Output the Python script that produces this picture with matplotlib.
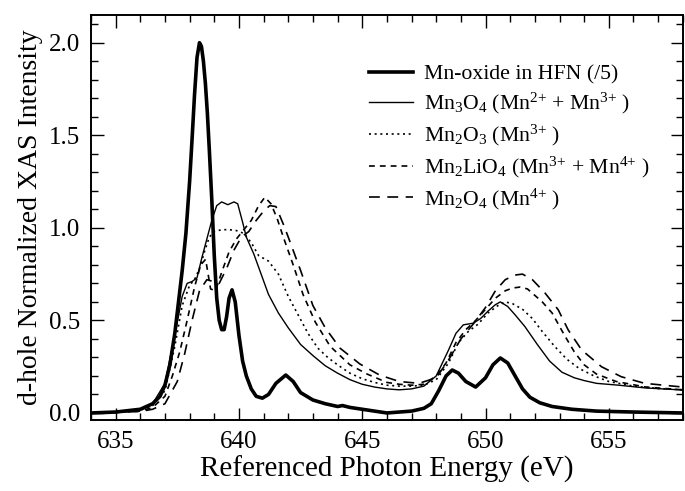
import matplotlib
matplotlib.use('Agg')
import matplotlib.pyplot as plt
from matplotlib.ticker import MultipleLocator, FormatStrFormatter

plt.rcParams['font.family'] = ['Liberation Serif', 'DejaVu Serif']
plt.rcParams['mathtext.fontset'] = 'custom'
plt.rcParams['mathtext.rm'] = 'Liberation Serif'
plt.rcParams['mathtext.it'] = 'Liberation Serif:italic'

# Mn-oxide in HFN, divided by 5
hfn_e = [634, 635, 636, 636.5, 636.8, 637.0, 637.2, 637.4, 637.55, 637.7, 637.85, 638.0,
         638.1, 638.2, 638.3, 638.4, 638.48, 638.56, 638.64, 638.72, 638.8, 638.9, 639.0,
         639.1, 639.2, 639.3, 639.4, 639.5, 639.6, 639.72, 639.85, 640.0, 640.15,
         640.3, 640.5, 640.7, 640.95, 641.2, 641.5, 641.9, 642.2, 642.5, 643.0, 643.5, 644.0,
         644.2, 644.5, 645.0, 645.5, 646.0, 646.5, 647.0, 647.5, 647.8, 648.1, 648.4, 648.65,
         648.9, 649.2, 649.6, 650.0, 650.3, 650.6, 650.9, 651.2, 651.5, 651.8, 652.2, 652.7,
         653.5, 654.5, 656, 658]
hfn_i = [0.0, 0.005, 0.02, 0.05, 0.09, 0.15, 0.26, 0.43, 0.6, 0.77, 0.97, 1.25,
         1.48, 1.72, 1.92, 2.0, 1.98, 1.9, 1.78, 1.62, 1.42, 1.15, 0.85,
         0.62, 0.5, 0.45, 0.45, 0.52, 0.62, 0.665, 0.6, 0.42, 0.28,
         0.2, 0.13, 0.09, 0.08, 0.1, 0.16, 0.205, 0.17, 0.11, 0.07, 0.05, 0.035,
         0.04, 0.03, 0.02, 0.01, 0.0, 0.005, 0.01, 0.025, 0.05, 0.12, 0.2, 0.232,
         0.215, 0.17, 0.14, 0.19, 0.26, 0.297, 0.27, 0.2, 0.13, 0.085, 0.055, 0.035,
         0.02, 0.01, 0.005, 0.0]

# Mn3O4
mn3o4_e = [634, 635, 636, 636.5, 637.0, 637.4, 637.7, 637.9, 638.1, 638.3, 638.5, 638.7,
           638.9, 639.1, 639.3, 639.55, 639.8, 639.95, 640.15, 640.3, 640.6, 640.9, 641.2,
           641.6, 642.0, 642.5, 643.0, 643.5, 644.0, 644.5, 645.0, 645.5, 646.0, 646.5,
           647.0, 647.5, 648.0, 648.5, 648.8, 649.1, 649.5, 649.8, 650.1, 650.4, 650.6,
           650.9, 651.2, 651.6, 652.1, 652.6, 653.1, 653.6, 654.0, 654.5, 655.4, 656.5, 658]
mn3o4_i = [0.0, 0.005, 0.02, 0.05, 0.16, 0.42, 0.63, 0.70, 0.71, 0.73, 0.84, 0.94,
           1.04, 1.12, 1.14, 1.125, 1.14, 1.13, 1.03, 0.95, 0.86, 0.75, 0.64,
           0.54, 0.46, 0.37, 0.31, 0.255, 0.215, 0.18, 0.155, 0.14, 0.13, 0.125,
           0.13, 0.145, 0.2, 0.34, 0.43, 0.476, 0.485, 0.51, 0.55, 0.585, 0.60,
           0.575, 0.53, 0.466, 0.37, 0.28, 0.22, 0.19, 0.175, 0.16, 0.15, 0.135, 0.124]

# Mn2O3
mn2o3_e = [634, 635, 636, 636.5, 637.0, 637.4, 637.7, 638.0, 638.2, 638.4, 638.6, 638.8,
           639.0, 639.3, 639.6, 639.9, 640.2, 640.5, 640.8, 641.2, 641.6, 642.0, 642.4,
           642.8, 643.2, 643.6, 644.0, 644.5, 645.0, 645.5, 646.0, 646.5, 647.0, 647.5,
           648.0, 648.5, 648.9, 649.3, 649.7, 650.1, 650.5, 650.8, 651.1, 651.5, 651.9,
           652.3, 652.8, 653.3, 653.8, 654.4, 655.0, 656.0, 657.0, 658]
mn2o3_i = [0.0, 0.005, 0.015, 0.04, 0.12, 0.36, 0.58, 0.69, 0.72, 0.78, 0.87, 0.95,
           0.98, 0.99, 0.99, 0.985, 0.97, 0.92, 0.85, 0.82, 0.75, 0.63, 0.53,
           0.43, 0.35, 0.30, 0.26, 0.215, 0.185, 0.165, 0.15, 0.145, 0.145, 0.15,
           0.18, 0.27, 0.38, 0.44, 0.48, 0.54, 0.58, 0.60, 0.59, 0.56, 0.51,
           0.44, 0.36, 0.29, 0.24, 0.2, 0.17, 0.145, 0.132, 0.125]

# Mn2LiO4
mn2lio4_e = [634, 635, 636, 636.5, 637.0, 637.3, 637.6, 637.9, 638.2, 638.45, 638.65, 638.85,
             639.05, 639.3, 639.6, 639.9, 640.2, 640.5, 640.8, 641.05, 641.3, 641.55, 641.8,
             642.2, 642.6, 643.1, 643.7, 644.5, 645.2, 646.0, 646.5, 647.0, 647.5, 648.0,
             648.4, 648.8, 649.2, 649.6, 650.0, 650.4, 650.8, 651.1, 651.4, 651.7, 652.0,
             652.3, 652.7, 653.2, 653.6, 654.0, 654.5, 655.3, 656.5, 658]
mn2lio4_i = [0.0, 0.005, 0.01, 0.03, 0.09, 0.2, 0.33, 0.5, 0.68, 0.8, 0.83, 0.67,
             0.66, 0.76, 0.87, 0.94, 0.99, 1.04, 1.12, 1.165, 1.13, 1.05, 0.95,
             0.8, 0.64, 0.49, 0.36, 0.26, 0.21, 0.165, 0.155, 0.15, 0.155, 0.2,
             0.27, 0.38, 0.45, 0.5, 0.56, 0.62, 0.66, 0.675, 0.68, 0.67, 0.635,
             0.6, 0.54, 0.42, 0.33, 0.26, 0.21, 0.17, 0.14, 0.125]

# Mn2O4
mn2o4_e = [634, 635, 636, 636.5, 637.0, 637.5, 637.8, 638.1, 638.4, 638.7, 638.95, 639.2,
           639.5, 639.8, 640.1, 640.4, 640.7, 641.0, 641.25, 641.5, 641.8, 642.0, 642.5,
           643.0, 643.5, 644.1, 644.9, 645.7, 646.5, 647.3, 648.0, 648.5, 649.0, 649.5,
           650.0, 650.4, 650.8, 651.2, 651.5, 651.9, 652.4, 652.95, 653.35, 653.9, 654.7,
           655.5, 656.45, 658]
mn2o4_i = [0.0, 0.003, 0.008, 0.02, 0.05, 0.17, 0.32, 0.5, 0.66, 0.72, 0.71, 0.70,
           0.78, 0.88, 0.95, 0.98, 1.04, 1.09, 1.12, 1.115, 1.02, 0.95, 0.77,
           0.58, 0.46, 0.35, 0.265, 0.205, 0.17, 0.16, 0.19, 0.286, 0.40, 0.48,
           0.57, 0.66, 0.72, 0.745, 0.75, 0.72, 0.65, 0.557, 0.449, 0.34, 0.25,
           0.196, 0.16, 0.14]

fig = plt.figure(figsize=(6.85, 4.91), dpi=100)
ax = fig.add_axes([0.1328, 0.1446, 0.864, 0.825])

ax.plot(hfn_e, hfn_i, color='black', lw=2.6, label='Mn-oxide in HFN (/5)')
ax.plot(mn3o4_e, mn3o4_i, color='black', lw=1.0,
        label=r'Mn$_3$O$_4$ (Mn$^{2{+}}$ + Mn$^{3{+}}$ )')
ax.plot(mn2o3_e, mn2o3_i, color='black', lw=1.2, dashes=(1.2, 2.2),
        label=r'Mn$_2$O$_3$ (Mn$^{3{+}}$ )')
ax.plot(mn2lio4_e, mn2lio4_i, color='black', lw=1.2, dashes=(3.5, 3.0),
        label=r'Mn$_2$LiO$_4$ (Mn$^{3{+}}$ + Mn$^{4{+}}$ )')
ax.plot(mn2o4_e, mn2o4_i, color='black', lw=1.2, dashes=(6.5, 4.5),
        label=r'Mn$_2$O$_4$ (Mn$^{4{+}}$ )')

ax.set_xlim(634, 658)
ax.set_ylim(-0.038, 2.15)
ax.xaxis.set_major_locator(MultipleLocator(5))
ax.xaxis.set_minor_locator(MultipleLocator(1))
ax.yaxis.set_major_locator(MultipleLocator(0.5))
ax.yaxis.set_minor_locator(MultipleLocator(0.1))
ax.yaxis.set_major_formatter(FormatStrFormatter('%.1f'))
ax.tick_params(which='both', direction='in', top=True, right=True, width=1.0,
               labelsize=18, pad=8)
ax.tick_params(which='major', length=9)
ax.tick_params(which='minor', length=5)
for s in ax.spines.values():
    s.set_linewidth(1.4)

ax.set_xlabel('Referenced Photon Energy (eV)', fontsize=21, labelpad=2)
ax.set_ylabel('d-hole Normalized XAS Intensity', fontsize=20, labelpad=4)

ax.legend(loc='upper left', bbox_to_anchor=(0.47, 0.878), frameon=False,
          fontsize=15.7, handlelength=2.0, handletextpad=0.5, labelspacing=0.3,
          borderpad=0, borderaxespad=0)

fig.savefig('out.png', dpi=100)
